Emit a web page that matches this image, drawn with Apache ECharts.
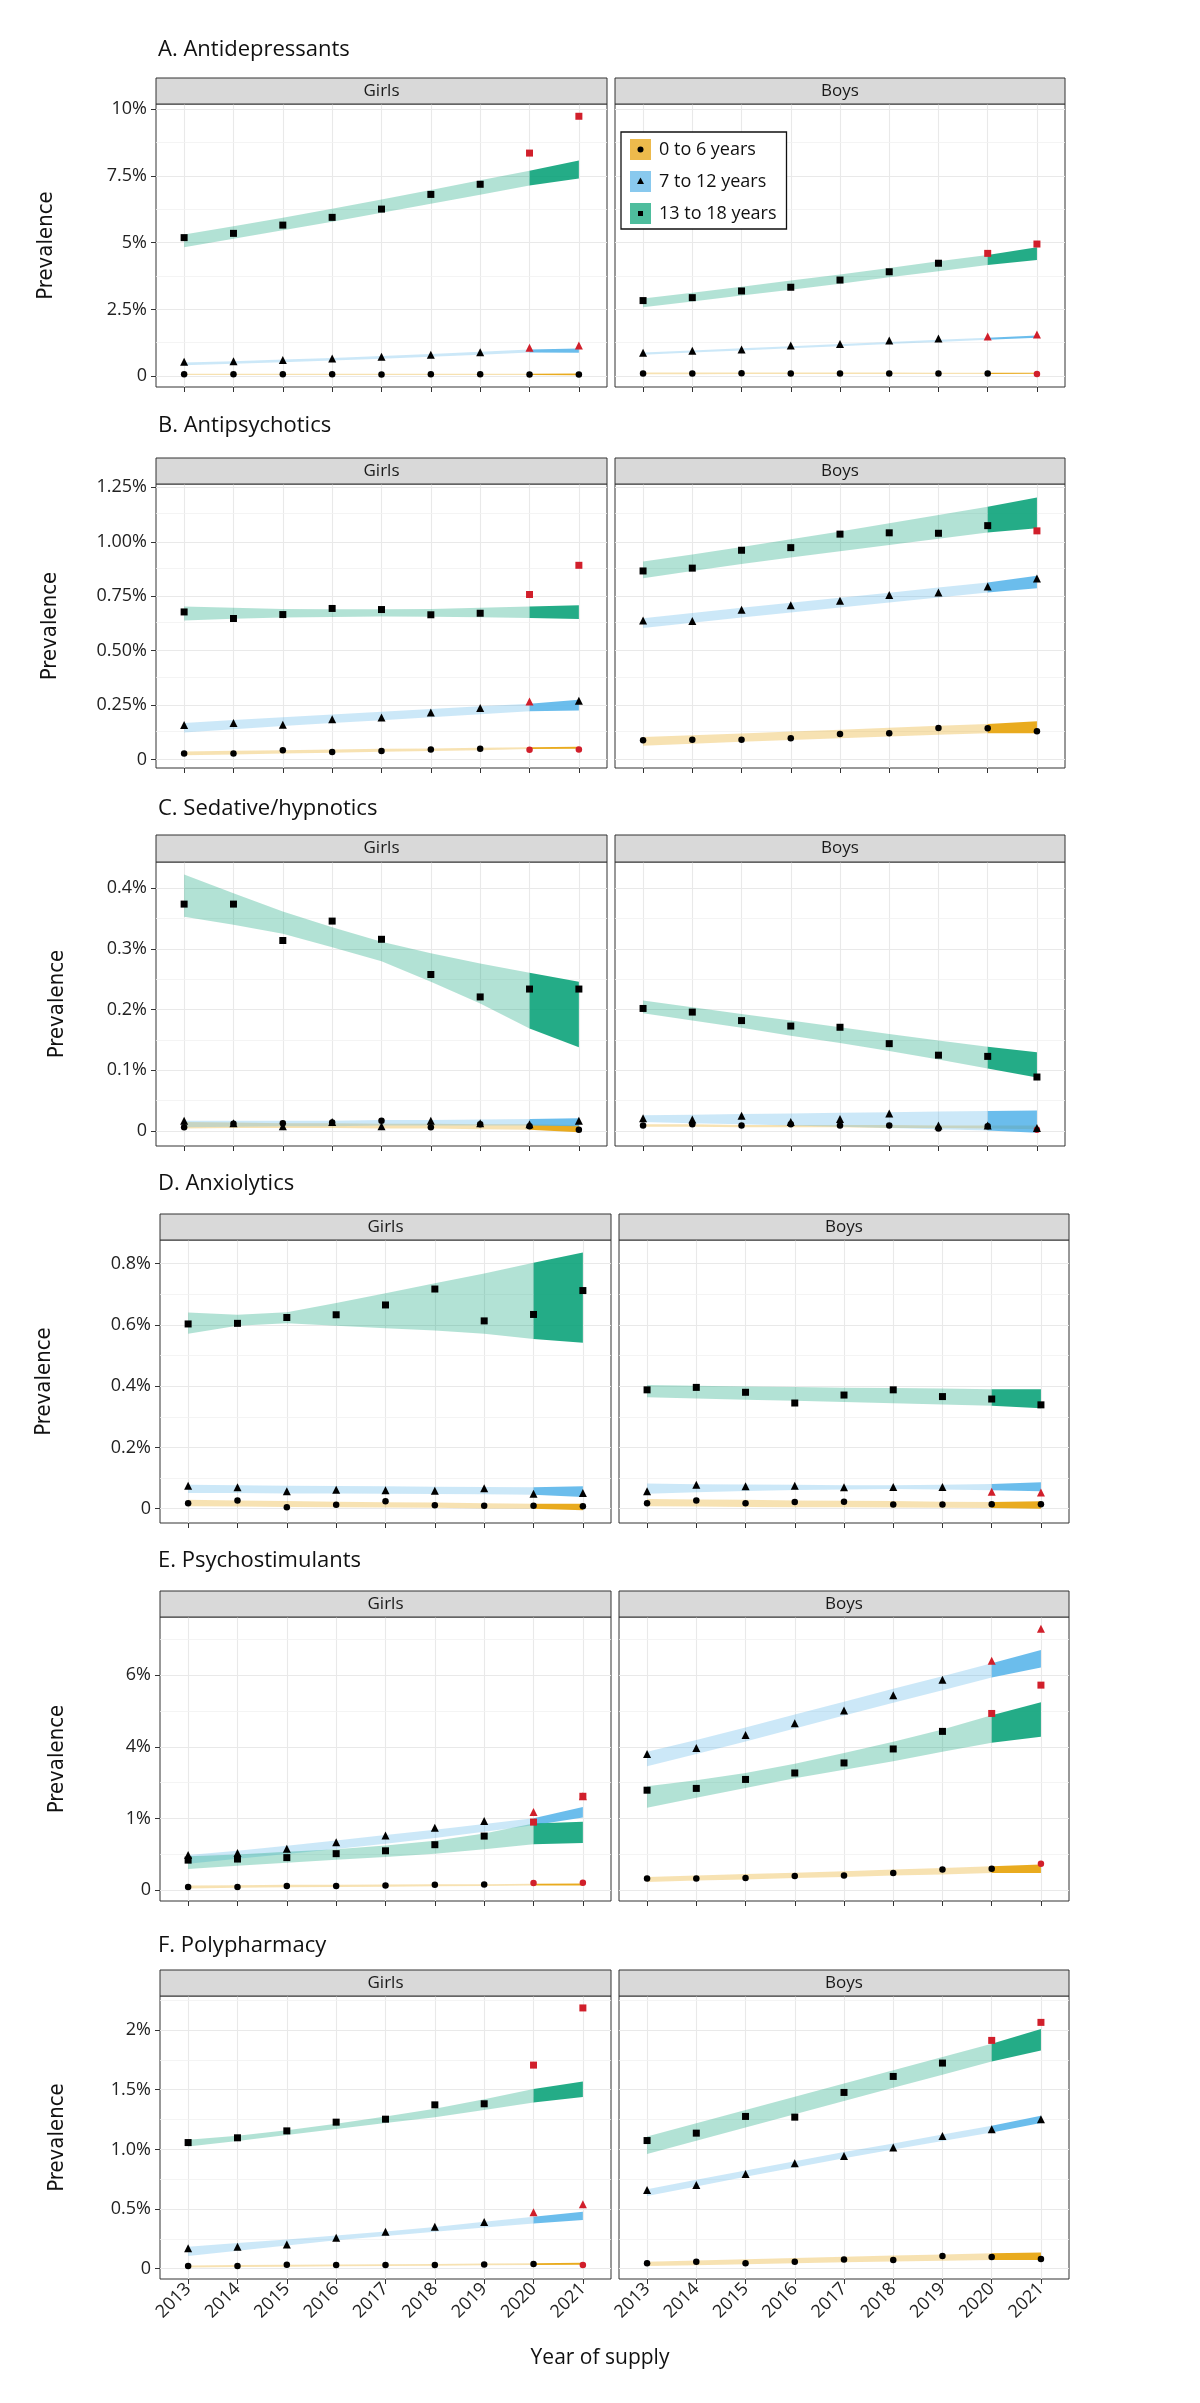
<!DOCTYPE html>
<html>
<head>
<meta charset="utf-8">
<title>Psychotropic prevalence 2013-2021</title>
<script src="https://cdn.jsdelivr.net/npm/echarts@6.0.0/dist/echarts.min.js"></script>
<style>
html,body{margin:0;padding:0;background:#fff;}
#main{width:1200px;height:2403px;}
</style>
</head>
<body>
<div id="main"></div>
<script>
var years = [2013, 2014, 2015, 2016, 2017, 2018, 2019, 2020, 2021];
var ageNames = ['0 to 6 years', '7 to 12 years', '13 to 18 years'];
var sexNames = ['Girls', 'Boys'];

// 每组: [0-6, 7-12, 13-18]，观测值 / 预测区间下限 / 上限 / 红点年份
// A. Antidepressants
var aGirlsObs = [[0.07,0.07,0.07,0.07,0.06,0.07,0.07,0.06,0.06],[0.54,0.56,0.60,0.66,0.72,0.80,0.89,1.06,1.15],[5.19,5.35,5.66,5.95,6.26,6.81,7.19,8.36,9.74]];
var aGirlsLo = [[0.04,0.04,0.04,0.04,0.04,0.04,0.04,0.04,0.03],[0.41,0.46,0.52,0.58,0.65,0.72,0.80,0.88,0.87],[4.83,5.15,5.47,5.79,6.12,6.46,6.80,7.14,7.41]];
var aGirlsHi = [[0.09,0.09,0.09,0.09,0.09,0.09,0.09,0.09,0.10],[0.51,0.56,0.62,0.68,0.75,0.83,0.91,1.00,1.03],[5.31,5.62,5.94,6.27,6.62,6.98,7.34,7.70,8.08]];
var aGirlsRed = [[], [2020, 2021], [2020, 2021]];
var aBoysObs = [[0.10,0.10,0.11,0.10,0.10,0.10,0.10,0.10,0.075],[0.875,0.95,1.00,1.15,1.20,1.33,1.41,1.48,1.56],[2.83,2.94,3.19,3.33,3.60,3.91,4.23,4.60,4.95]];
var aBoysLo = [[0.07,0.07,0.08,0.08,0.08,0.08,0.08,0.08,0.085],[0.80,0.88,0.96,1.04,1.12,1.20,1.28,1.36,1.44],[2.58,2.80,3.02,3.24,3.46,3.70,3.93,4.16,4.35]];
var aBoysHi = [[0.13,0.13,0.13,0.13,0.13,0.13,0.12,0.12,0.12],[0.88,0.96,1.04,1.12,1.20,1.28,1.36,1.44,1.52],[2.91,3.12,3.35,3.58,3.81,4.05,4.30,4.54,4.83]];
var aBoysRed = [[2021], [2020, 2021], [2020, 2021]];
var aTicks = [0, 2.5, 5, 7.5, 10];
var aTickLabels = ['0', '2.5%', '5%', '7.5%', '10%'];

// B. Antipsychotics
var bGirlsObs = [[0.029,0.029,0.044,0.035,0.040,0.047,0.050,0.046,0.047],[0.159,0.168,0.160,0.186,0.194,0.217,0.237,0.267,0.270],[0.678,0.648,0.666,0.694,0.689,0.665,0.672,0.758,0.892]];
var bGirlsLo = [[0.020,0.024,0.028,0.032,0.036,0.040,0.044,0.049,0.050],[0.125,0.140,0.155,0.168,0.181,0.195,0.209,0.222,0.226],[0.639,0.647,0.652,0.655,0.657,0.656,0.654,0.650,0.646]];
var bGirlsHi = [[0.038,0.041,0.044,0.047,0.050,0.052,0.055,0.057,0.060],[0.168,0.182,0.195,0.208,0.220,0.233,0.245,0.257,0.275],[0.703,0.697,0.692,0.690,0.690,0.692,0.697,0.703,0.709]];
var bGirlsRed = [[2020, 2021], [2020], [2020, 2021]];
var bBoysObs = [[0.089,0.092,0.092,0.099,0.118,0.121,0.145,0.144,0.131],[0.639,0.637,0.688,0.709,0.729,0.756,0.767,0.795,0.831],[0.866,0.879,0.961,0.973,1.035,1.041,1.039,1.074,1.050]];
var bBoysLo = [[0.064,0.073,0.082,0.090,0.098,0.106,0.114,0.122,0.122],[0.604,0.628,0.652,0.675,0.698,0.721,0.744,0.767,0.787],[0.833,0.866,0.898,0.928,0.956,0.985,1.014,1.042,1.062]];
var bBoysHi = [[0.104,0.112,0.120,0.129,0.138,0.147,0.156,0.164,0.176],[0.649,0.673,0.697,0.720,0.743,0.766,0.790,0.813,0.844],[0.909,0.942,0.976,1.011,1.047,1.085,1.123,1.161,1.203]];
var bBoysRed = [[], [], [2021]];
var bTicks = [0, 0.25, 0.5, 0.75, 1, 1.25];
var bTickLabels = ['0', '0.25%', '0.50%', '0.75%', '1.00%', '1.25%'];

// C. Sedative/hypnotics
var cGirlsObs = [[0.006,0.012,0.013,0.014,0.017,0.006,0.011,0.008,0.002],[0.017,0.013,0.008,0.015,0.008,0.017,0.013,0.011,0.017],[0.374,0.374,0.314,0.346,0.316,0.258,0.221,0.234,0.234]];
var cGirlsLo = [[0.004,0.005,0.005,0.005,0.004,0.004,0.003,0.002,-0.002],[0.006,0.007,0.008,0.008,0.009,0.009,0.009,0.009,0.008],[0.353,0.340,0.325,0.303,0.280,0.246,0.210,0.169,0.138]];
var cGirlsHi = [[0.015,0.014,0.013,0.013,0.012,0.012,0.011,0.011,0.010],[0.017,0.017,0.017,0.017,0.018,0.018,0.019,0.020,0.021],[0.423,0.392,0.362,0.336,0.312,0.293,0.276,0.261,0.246]];
var cGirlsRed = [[], [], []];
var cBoysObs = [[0.009,0.011,0.009,0.011,0.009,0.009,0.004,0.008,0.002],[0.021,0.019,0.025,0.015,0.020,0.029,0.009,0.009,0.005],[0.202,0.196,0.182,0.173,0.171,0.144,0.125,0.123,0.089]];
var cBoysLo = [[0.007,0.007,0.006,0.006,0.006,0.005,0.005,0.004,0.003],[0.015,0.013,0.011,0.009,0.007,0.005,0.003,0.001,-0.003],[0.194,0.182,0.170,0.157,0.145,0.132,0.118,0.103,0.088]];
var cBoysHi = [[0.011,0.011,0.010,0.010,0.010,0.010,0.009,0.009,0.009],[0.026,0.027,0.028,0.029,0.030,0.031,0.032,0.033,0.034],[0.215,0.204,0.193,0.182,0.171,0.160,0.149,0.139,0.130]];
var cBoysRed = [[2021], [], []];
var cTicks = [0, 0.1, 0.2, 0.3, 0.4];
var cTickLabels = ['0', '0.1%', '0.2%', '0.3%', '0.4%'];

// D. Anxiolytics
var dGirlsObs = [[0.018,0.027,0.005,0.013,0.024,0.011,0.010,0.010,0.008],[0.075,0.070,0.057,0.062,0.060,0.059,0.067,0.049,0.051],[0.603,0.605,0.624,0.633,0.665,0.717,0.613,0.634,0.712]];
var dGirlsLo = [[0.008,0.007,0.006,0.005,0.004,0.003,0.001,0.000,-0.005],[0.051,0.051,0.050,0.050,0.049,0.048,0.047,0.046,0.038],[0.571,0.597,0.605,0.597,0.589,0.582,0.571,0.554,0.542]];
var dGirlsHi = [[0.029,0.027,0.025,0.023,0.021,0.020,0.018,0.016,0.016],[0.078,0.077,0.075,0.074,0.073,0.072,0.071,0.070,0.073],[0.640,0.633,0.641,0.671,0.703,0.736,0.768,0.803,0.836]];
var dGirlsRed = [[], [], []];
var dBoysObs = [[0.018,0.027,0.018,0.022,0.023,0.014,0.014,0.015,0.015],[0.057,0.078,0.073,0.075,0.070,0.071,0.071,0.055,0.053],[0.388,0.396,0.380,0.345,0.371,0.388,0.366,0.358,0.339]];
var dBoysLo = [[0.008,0.007,0.006,0.005,0.005,0.004,0.003,0.002,0.000],[0.049,0.054,0.058,0.061,0.063,0.064,0.063,0.060,0.057],[0.364,0.360,0.356,0.352,0.348,0.344,0.340,0.336,0.328]];
var dBoysHi = [[0.032,0.030,0.029,0.027,0.026,0.025,0.023,0.022,0.024],[0.082,0.080,0.079,0.078,0.077,0.077,0.078,0.081,0.086],[0.404,0.401,0.399,0.397,0.395,0.394,0.392,0.390,0.390]];
var dBoysRed = [[], [2020, 2021], []];
var dTicks = [0, 0.2, 0.4, 0.6, 0.8];
var dTickLabels = ['0', '0.2%', '0.4%', '0.6%', '0.8%'];

// E. Psychostimulants (刻度文字照原图: 第二个刻度写作 1%)
var eGirlsObs = [[0.09,0.09,0.12,0.12,0.13,0.15,0.16,0.20,0.21],[0.98,1.04,1.16,1.34,1.53,1.74,1.93,2.18,2.62],[0.84,0.87,0.91,1.02,1.10,1.27,1.51,1.90,2.62]];
var eGirlsLo = [[0.05,0.07,0.08,0.09,0.10,0.11,0.12,0.13,0.13],[0.74,0.88,1.01,1.15,1.30,1.46,1.63,1.81,2.03],[0.59,0.68,0.77,0.85,0.93,1.02,1.14,1.28,1.32]];
var eGirlsHi = [[0.13,0.14,0.15,0.15,0.16,0.17,0.17,0.18,0.19],[0.98,1.10,1.24,1.39,1.54,1.69,1.85,2.01,2.32],[0.95,1.00,1.07,1.14,1.25,1.38,1.58,1.86,1.91]];
var eGirlsRed = [[2020, 2021], [2020, 2021], [2020, 2021]];
var eBoysObs = [[0.33,0.33,0.34,0.40,0.41,0.48,0.58,0.60,0.74],[3.80,3.97,4.33,4.66,5.01,5.44,5.87,6.40,7.29],[2.79,2.84,3.09,3.27,3.55,3.94,4.43,4.93,5.72]];
var eBoysLo = [[0.23,0.27,0.30,0.34,0.37,0.41,0.44,0.48,0.48],[3.46,3.80,4.15,4.51,4.87,5.23,5.58,5.93,6.21],[2.30,2.58,2.85,3.12,3.36,3.60,3.86,4.11,4.28]];
var eBoysHi = [[0.37,0.41,0.45,0.49,0.53,0.58,0.62,0.67,0.72],[3.86,4.19,4.54,4.90,5.26,5.62,5.97,6.33,6.70],[2.90,3.07,3.27,3.53,3.83,4.14,4.48,4.88,5.24]];
var eBoysRed = [[2021], [2020, 2021], [2020, 2021]];
var eTicks = [0, 2, 4, 6];
var eTickLabels = ['0', '1%', '4%', '6%'];

// F. Polypharmacy
var fGirlsObs = [[0.022,0.022,0.034,0.031,0.031,0.031,0.036,0.039,0.031],[0.171,0.185,0.204,0.260,0.310,0.352,0.392,0.473,0.540],[1.057,1.097,1.155,1.228,1.253,1.373,1.382,1.706,2.185]];
var fGirlsLo = [[0.011,0.014,0.017,0.020,0.023,0.026,0.029,0.031,0.034],[0.106,0.150,0.195,0.238,0.275,0.310,0.345,0.380,0.408],[1.024,1.070,1.120,1.170,1.220,1.270,1.330,1.393,1.438]];
var fGirlsHi = [[0.028,0.031,0.033,0.036,0.038,0.040,0.043,0.045,0.050],[0.185,0.215,0.245,0.278,0.312,0.350,0.393,0.436,0.478],[1.080,1.115,1.160,1.215,1.275,1.340,1.420,1.505,1.569]];
var fGirlsRed = [[2021], [2020, 2021], [2020, 2021]];
var fBoysObs = [[0.045,0.059,0.045,0.059,0.078,0.073,0.106,0.098,0.081],[0.660,0.702,0.794,0.884,0.945,1.015,1.113,1.169,1.253],[1.074,1.136,1.276,1.270,1.477,1.611,1.723,1.913,2.064]];
var fBoysLo = [[0.022,0.030,0.038,0.046,0.054,0.061,0.067,0.073,0.073],[0.610,0.690,0.770,0.848,0.925,1.000,1.070,1.141,1.220],[0.962,1.073,1.183,1.294,1.405,1.516,1.626,1.737,1.829]];
var fBoysHi = [[0.059,0.070,0.080,0.090,0.100,0.110,0.120,0.129,0.137],[0.666,0.745,0.823,0.900,0.977,1.050,1.124,1.197,1.281],[1.108,1.219,1.330,1.441,1.552,1.663,1.774,1.885,2.008]];
var fBoysRed = [[], [], [2020, 2021]];
var fTicks = [0, 0.5, 1, 1.5, 2];
var fTickLabels = ['0', '0.5%', '1.0%', '1.5%', '2%'];

var panels = [
    {title: 'A. Antidepressants', girls: [aGirlsObs, aGirlsLo, aGirlsHi, aGirlsRed], boys: [aBoysObs, aBoysLo, aBoysHi, aBoysRed], ticks: aTicks, labels: aTickLabels, min: -0.41, max: 10.2},
    {title: 'B. Antipsychotics', girls: [bGirlsObs, bGirlsLo, bGirlsHi, bGirlsRed], boys: [bBoysObs, bBoysLo, bBoysHi, bBoysRed], ticks: bTicks, labels: bTickLabels, min: -0.038, max: 1.265},
    {title: 'C. Sedative/hypnotics', girls: [cGirlsObs, cGirlsLo, cGirlsHi, cGirlsRed], boys: [cBoysObs, cBoysLo, cBoysHi, cBoysRed], ticks: cTicks, labels: cTickLabels, min: -0.0247, max: 0.4434},
    {title: 'D. Anxiolytics', girls: [dGirlsObs, dGirlsLo, dGirlsHi, dGirlsRed], boys: [dBoysObs, dBoysLo, dBoysHi, dBoysRed], ticks: dTicks, labels: dTickLabels, min: -0.0466, max: 0.877},
    {title: 'E. Psychostimulants', girls: [eGirlsObs, eGirlsLo, eGirlsHi, eGirlsRed], boys: [eBoysObs, eBoysLo, eBoysHi, eBoysRed], ticks: eTicks, labels: eTickLabels, min: -0.30, max: 7.62},
    {title: 'F. Polypharmacy', girls: [fGirlsObs, fGirlsLo, fGirlsHi, fGirlsRed], boys: [fBoysObs, fBoysLo, fBoysHi, fBoysRed], ticks: fTicks, labels: fTickLabels, min: -0.086, max: 2.285}
];

// 版面
var rowTop = [104, 484, 862, 1240, 1617, 1996];
var rowHeight = [283, 284, 284, 283, 284, 283];
var stripTop = [78, 458, 835, 1214, 1591, 1970];
var titleY = [54, 430, 813, 1188, 1565, 1950];
var colLeft = [[156, 615], [156, 615], [156, 615], [160, 619], [160, 619], [160, 619]];
var panelWidth = [451, 450];
var prevX = [46, 50, 57, 44, 57, 57];

var font = '"Open Sans", "DejaVu Sans", sans-serif';
var lightCol = ['rgba(230,159,0,0.3)', 'rgba(86,180,233,0.3)', 'rgba(0,158,115,0.3)'];
var darkCol = ['rgba(230,159,0,0.88)', 'rgba(86,180,233,0.88)', 'rgba(0,158,115,0.86)'];
var legendCol = ['#e9a91f', '#6cbcea', '#22ac85'];
var symbols = ['circle', 'triangle', 'rect'];
var symbolSizes = [6.5, 8, 7];
var red = '#d11f2b';

var grids = [], xAxes = [], yAxes = [], series = [], graphics = [];

function bandRenderer(lo, hi) {
    return function (params, api) {
        var k = params.dataIndex;
        var age = Math.floor(k / 2), dark = k % 2;
        var from = dark ? 7 : 0, to = dark ? 8 : 7;
        var pts = [];
        for (var i = from; i <= to; i++) pts.push(api.coord([years[i], hi[age][i]]));
        for (var j = to; j >= from; j--) pts.push(api.coord([years[j], lo[age][j]]));
        return {
            type: 'polygon',
            shape: {points: pts},
            style: {fill: dark ? darkCol[age] : lightCol[age]}
        };
    };
}

panels.forEach(function (p, r) {
    // 标题
    graphics.push({type: 'text', left: 158, top: titleY[r] - 15, z: 10,
        style: {text: p.title, font: '22px ' + font, fill: '#111'}});
    graphics.push({type: 'text', x: prevX[r], y: rowTop[r] + rowHeight[r] / 2, rotation: Math.PI / 2, z: 10,
        style: {text: 'Prevalence', font: '22px "DejaVu Sans Condensed", "DejaVu Sans", sans-serif', fill: '#111', align: 'center', verticalAlign: 'middle'}});

    // 次网格线: 刻度中点
    var minors = [];
    for (var m = 0; m < p.ticks.length; m++) {
        var step = p.ticks[1] - p.ticks[0];
        var mv = p.ticks[m] + step / 2;
        if (mv < p.max) minors.push(mv);
    }

    [0, 1].forEach(function (c) {
        var g = grids.length;
        var sex = c === 0 ? p.girls : p.boys;
        var obs = sex[0], lo = sex[1], hi = sex[2], reds = sex[3];
        var left = colLeft[r][c], w = panelWidth[c];

        grids.push({left: left, top: rowTop[r], width: w, height: rowHeight[r],
            show: true, borderColor: '#333', borderWidth: 1, containLabel: false});

        // 分面标签
        graphics.push({type: 'rect', shape: {x: left, y: stripTop[r], width: w, height: rowTop[r] - stripTop[r]}, z: 5,
            style: {fill: '#d9d9d9', stroke: '#333', lineWidth: 1}});
        graphics.push({type: 'text', x: left + w / 2, y: (stripTop[r] + rowTop[r]) / 2, z: 6,
            style: {text: sexNames[c], font: '17px ' + font, fill: '#1a1a1a', align: 'center', verticalAlign: 'middle'}});

        xAxes.push({type: 'value', gridIndex: g, min: 2012.43, max: 2021.57,
            axisLine: {show: false, onZero: false},
            axisTick: {show: true, length: 5, customValues: years, lineStyle: {color: '#333'}},
            axisLabel: {show: r === panels.length - 1, customValues: years, rotate: 45, margin: 7,
                fontSize: 18, fontFamily: font, color: '#222',
                formatter: function (v) { return String(v); }},
            splitLine: {show: false}});
        yAxes.push({type: 'value', gridIndex: g, min: p.min, max: p.max,
            axisLine: {show: false, onZero: false},
            axisTick: {show: c === 0, length: 5, customValues: p.ticks, lineStyle: {color: '#333'}},
            axisLabel: {show: c === 0, customValues: p.ticks, margin: 9, fontSize: 18, fontFamily: font, color: '#222',
                formatter: function (v) {
                    var i = p.ticks.indexOf(v);
                    return i >= 0 ? p.labels[i] : '';
                }},
            splitLine: {show: false}});

        // 网格线
        var lines = [];
        years.forEach(function (y) { lines.push({xAxis: y}); });
        p.ticks.forEach(function (t) { lines.push({yAxis: t}); });
        minors.forEach(function (t) { lines.push({yAxis: t, lineStyle: {color: '#f1f1f1', width: 0.8}}); });
        series.push({type: 'line', xAxisIndex: g, yAxisIndex: g, data: [], silent: true,
            markLine: {silent: true, symbol: 'none', z: 1, animation: false, label: {show: false},
                lineStyle: {color: '#e9e9e9', width: 1.1, type: 'solid'},
                emphasis: {disabled: true}, data: lines}});

        // 预测区间
        series.push({type: 'custom', xAxisIndex: g, yAxisIndex: g, z: 2, silent: true, clip: true,
            renderItem: bandRenderer(lo, hi),
            data: [[2017, 0], [2017, 0], [2017, 0], [2017, 0], [2017, 0], [2017, 0]]});

        // 观测值
        for (var a = 0; a < 3; a++) {
            var pts = years.map(function (y, i) {
                var item = {value: [y, obs[a][i]]};
                if (reds[a].indexOf(y) >= 0) item.itemStyle = {color: red};
                return item;
            });
            series.push({type: 'scatter', xAxisIndex: g, yAxisIndex: g, z: 3, silent: true,
                symbol: symbols[a], symbolSize: symbolSizes[a],
                itemStyle: {color: '#000', opacity: 1}, data: pts});
        }
    });
});

// 图例用的空系列
ageNames.forEach(function (n, a) {
    series.push({type: 'scatter', name: n, xAxisIndex: 1, yAxisIndex: 1, data: [],
        itemStyle: {color: legendCol[a]}});
});
// 图例色块里的黑色符号
graphics.push({type: 'circle', shape: {cx: 640.5, cy: 149.5, r: 3}, z: 50, style: {fill: '#000'}});
graphics.push({type: 'polygon', shape: {points: [[640.5, 177.5], [637, 184], [644, 184]]}, z: 50, style: {fill: '#000'}});
graphics.push({type: 'rect', shape: {x: 638, y: 211, width: 5, height: 5}, z: 50, style: {fill: '#000'}});

graphics.push({type: 'text', x: 600, y: 2358, z: 10,
    style: {text: 'Year of supply', font: '21px ' + font, fill: '#111', align: 'center', verticalAlign: 'middle'}});

var myChart = echarts.init(document.getElementById('main'), null, {renderer: 'canvas'});
myChart.setOption({
    animation: false,
    backgroundColor: '#fff',
    grid: grids,
    xAxis: xAxes,
    yAxis: yAxes,
    legend: {
        data: ageNames, left: 621, top: 132, orient: 'vertical', icon: 'rect',
        itemWidth: 21, itemHeight: 21, itemGap: 11, selectedMode: false,
        padding: [7, 10, 5, 9], borderColor: '#111', borderWidth: 1.3, backgroundColor: '#fff',
        textStyle: {fontSize: 18, fontFamily: font, color: '#111', padding: [0, 0, 0, 3]}
    },
    graphic: graphics,
    series: series
});
</script>
</body>
</html>
